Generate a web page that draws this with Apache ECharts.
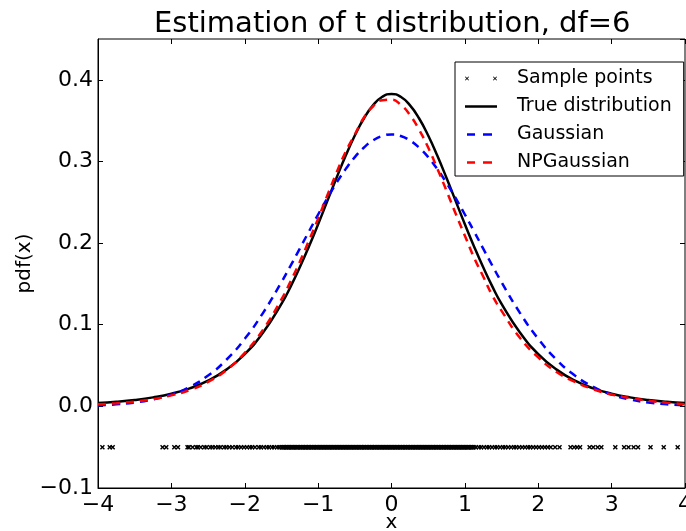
<!DOCTYPE html>
<html>
<head>
<meta charset="utf-8">
<script src="https://cdn.jsdelivr.net/npm/echarts@6/dist/echarts.min.js"></script>
<style>html,body{margin:0;padding:0;background:#fff}#c{width:686px;height:531px}</style>
</head>
<body>
<div id="c"></div>
<script>
// ---- data ----
const xGrid = [-4, -3.75, -3.5, -3.25, -3, -2.75, -2.5, -2.25, -2, -1.75, -1.5, -1.375, -1.25, -1.125, -1, -0.875, -0.75, -0.625, -0.5, -0.375, -0.25, -0.125, 0,
  0.125, 0.25, 0.375, 0.5, 0.625, 0.75, 0.875, 1, 1.125, 1.25, 1.375, 1.5, 1.75, 2, 2.25, 2.5, 2.75, 3, 3.25, 3.5, 3.75, 4];
const trueDist = [0.0041, 0.0056, 0.0078, 0.0110, 0.0155, 0.0220, 0.0315, 0.0450, 0.0640, 0.0904, 0.1255, 0.1467, 0.1703, 0.1959, 0.2231, 0.2514, 0.2797, 0.3069, 0.3318, 0.3529, 0.3690, 0.3792, 0.3827,
  0.3792, 0.3690, 0.3529, 0.3318, 0.3069, 0.2797, 0.2514, 0.2231, 0.1959, 0.1703, 0.1467, 0.1255, 0.0904, 0.0640, 0.0450, 0.0315, 0.0220, 0.0155, 0.0110, 0.0078, 0.0056, 0.0041];
const gaussian = [0.0013, 0.0025, 0.0047, 0.0084, 0.0145, 0.0239, 0.0377, 0.0571, 0.0827, 0.1146, 0.1521, 0.1723, 0.1932, 0.2143, 0.2350, 0.2550, 0.2737, 0.2906, 0.3053, 0.3171, 0.3258, 0.3312, 0.3330,
  0.3312, 0.3258, 0.3171, 0.3053, 0.2906, 0.2737, 0.2550, 0.2350, 0.2143, 0.1932, 0.1723, 0.1521, 0.1146, 0.0827, 0.0571, 0.0377, 0.0239, 0.0145, 0.0084, 0.0047, 0.0025, 0.0013];
const npGaussian = [0.0025, 0.0038, 0.0058, 0.0088, 0.0135, 0.0200, 0.0300, 0.0445, 0.0655, 0.0940, 0.1310, 0.1532, 0.1770, 0.2031, 0.2300, 0.2583, 0.2860, 0.3118, 0.3330, 0.3539, 0.3676, 0.3750, 0.3756,
  0.3695, 0.3571, 0.3391, 0.3170, 0.2912, 0.2640, 0.2359, 0.2090, 0.1822, 0.1590, 0.1356, 0.1170, 0.0840, 0.0600, 0.0420, 0.0300, 0.0210, 0.0145, 0.0102, 0.0070, 0.0045, 0.0025];
const sampleY = -0.05;
const samplePoints = [
  -3.94, -3.84, -3.80, -3.12, -3.07, -2.96, -2.91,
  -2.78, -2.76, -2.71, -2.66, -2.64, -2.60, -2.55, -2.52, -2.47, -2.44, -2.40, -2.36, -2.33, -2.28, -2.25, -2.21,
  -2.17, -2.12, -2.09, -2.05, -2.01, -1.97, -1.93, -1.90, -1.86, -1.81, -1.78, -1.74, -1.70, -1.67, -1.63, -1.60, -1.56, -1.53,
  -1.50, -1.48, -1.46, -1.43, -1.41, -1.39, -1.36, -1.34, -1.31, -1.29, -1.27, -1.24, -1.22, -1.20, -1.17, -1.15, -1.13,
  -1.10, -1.08, -1.06, -1.03, -1.01, -0.99, -0.96, -0.94, -0.92, -0.89, -0.87, -0.85, -0.82, -0.80, -0.78, -0.75, -0.73,
  -0.71, -0.69, -0.66, -0.64, -0.62, -0.59, -0.57, -0.55, -0.52, -0.50, -0.48, -0.45, -0.43, -0.41, -0.38, -0.36, -0.34,
  -0.31, -0.29, -0.27, -0.24, -0.22, -0.20, -0.17, -0.15, -0.13, -0.10, -0.08, -0.06, -0.03, -0.01, 0.01, 0.04, 0.06,
  0.08, 0.11, 0.13, 0.15, 0.18, 0.20, 0.22, 0.25, 0.27, 0.29, 0.32, 0.34, 0.36, 0.39, 0.41, 0.43, 0.46, 0.48, 0.50,
  0.53, 0.55, 0.57, 0.60, 0.62, 0.64, 0.67, 0.69, 0.71, 0.74, 0.76, 0.78, 0.81, 0.83, 0.85, 0.88, 0.90, 0.92, 0.95,
  0.97, 0.99, 1.02, 1.04, 1.06, 1.09, 1.11,
  -1.49, -1.47, -1.44, -1.42, -1.40, -1.37, -1.35, -1.33, -1.30, -1.28, -1.25, -1.23, -1.21, -1.18, -1.16, -1.14,
  -1.12, -1.09, -1.07, -1.05, -1.02, -1.00, -0.97, -0.95, -0.93, -0.91, -0.88, -0.86, -0.84, -0.81, -0.79, -0.77,
  -0.74, -0.72, -0.70, -0.67, -0.65, -0.63, -0.61, -0.58, -0.56, -0.54, -0.51, -0.49, -0.47, -0.44, -0.42, -0.40,
  -0.37, -0.35, -0.33, -0.30, -0.28, -0.26, -0.23, -0.21, -0.19, -0.16, -0.14, -0.12, -0.09, -0.07, -0.05, -0.02,
  0.00, 0.02, 0.05, 0.07, 0.09, 0.12, 0.14, 0.16, 0.19, 0.21, 0.23, 0.26, 0.28, 0.30, 0.33, 0.35, 0.37, 0.40,
  0.42, 0.44, 0.47, 0.49, 0.51, 0.54, 0.56, 0.58, 0.61, 0.63, 0.65, 0.68, 0.70, 0.72, 0.75, 0.77, 0.79, 0.82,
  0.84, 0.86, 0.89, 0.91, 0.93, 0.96, 0.98, 1.00, 1.03, 1.05, 1.08, 1.10, 1.12,
  1.15, 1.19, 1.22, 1.26, 1.30, 1.33, 1.37, 1.41, 1.44, 1.48, 1.52, 1.55, 1.59, 1.63, 1.67, 1.70, 1.74, 1.78, 1.82,
  1.86, 1.89, 1.93, 1.97, 2.01, 2.05, 2.09, 2.13, 2.17,
  2.23, 2.29, 2.44, 2.49, 2.53, 2.57, 2.70, 2.75, 2.81, 2.86, 3.05, 3.17, 3.23, 3.30, 3.36, 3.53, 3.71, 3.90
];
const seriesNames = ['Sample points', 'True distribution', 'Gaussian', 'NPGaussian'];
const titleText = 'Estimation of t distribution, df=6';

// ---- styling helpers ----
function cross(cx, cy, h, d) {
  const p = [[cx-h, cy-h+d], [cx-h+d, cy-h], [cx, cy-d], [cx+h-d, cy-h], [cx+h, cy-h+d], [cx+d, cy],
             [cx+h, cy+h-d], [cx+h-d, cy+h], [cx, cy+d], [cx-h+d, cy+h], [cx-h, cy+h-d], [cx-d, cy]];
  return 'M' + p.map(q => q[0] + ',' + q[1]).join('L') + 'Z';
}
const IW = 47, IH = 8;
const corners = 'M0,0h0.01v0.01h-0.01Z M' + IW + ',' + IH + 'h-0.01v-0.01h0.01Z';
const markerPath = 'path://' + cross(5, 5, 5, 2);
const iconSample = 'path://' + cross(2, 4, 2, 0.6) + ' ' + cross(30, 4, 2, 0.6) + ' ' + corners;
const iconSolid = 'path://M0,2.75h32v2.5h-32Z ' + corners;
const iconDash = 'path://M2,2.75h8v2.5h-8Z M18,2.75h9v2.5h-9Z ' + corners;
const FONT = 'DejaVu Sans';
const minusFmt = v => (v < 0 ? '\u2212' : '') + Math.abs(v);

const chart = echarts.init(document.getElementById('c'), null, {renderer: 'canvas'});
const lineData = arr => xGrid.map((x, i) => [x, arr[i]]);
const tick = {show: true, inside: true, length: 5, lineStyle: {color: '#000', width: 1}};

chart.setOption({
  animation: false,
  backgroundColor: '#fff',
  textStyle: {fontFamily: FONT, color: '#000'},
  title: {
    text: titleText, left: 149, top: 5,
    textStyle: {fontFamily: FONT, fontSize: 29, fontWeight: 'normal', color: '#000'}
  },
  grid: {left: 98, right: 1, top: 39, bottom: 43, show: true, borderColor: '#000', borderWidth: 1,
    containLabel: false, outerBoundsMode: 'none'},
  legend: {
    orient: 'vertical', left: 455, top: 62,
    padding: [7, 12, 4, 10], itemGap: 9,
    itemWidth: IW, itemHeight: IH,
    backgroundColor: '#fff', borderColor: '#000', borderWidth: 1,
    textStyle: {fontFamily: FONT, fontSize: 19, color: '#000'},
    selectedMode: false,
    data: [
      {name: seriesNames[0], icon: iconSample, itemStyle: {color: '#000', borderWidth: 0}},
      {name: seriesNames[1], icon: iconSolid, itemStyle: {color: '#000', borderWidth: 0}},
      {name: seriesNames[2], icon: iconDash, itemStyle: {color: '#0000ff', borderWidth: 0}},
      {name: seriesNames[3], icon: iconDash, itemStyle: {color: '#ff0000', borderWidth: 0}}
    ]
  },
  xAxis: [{
    type: 'value', min: -4, max: 4, interval: 1,
    name: 'x', nameLocation: 'middle', nameGap: 25, nameMoveOverlap: false,
    nameTextStyle: {fontFamily: FONT, fontSize: 20, color: '#000'},
    axisLine: {show: true, onZero: false, lineStyle: {color: '#000', width: 1}},
    axisTick: tick,
    axisLabel: {fontFamily: FONT, fontSize: 22, color: '#000', margin: 6, formatter: minusFmt},
    splitLine: {show: false}
  }, {
    type: 'value', min: -4, max: 4, interval: 1, position: 'top',
    axisLine: {show: false, onZero: false}, axisLabel: {show: false}, splitLine: {show: false},
    axisTick: tick
  }],
  yAxis: [{
    type: 'value', min: -0.1, max: 0.45, interval: 0.1,
    name: 'pdf(x)', nameLocation: 'middle', nameGap: 63, nameMoveOverlap: false,
    nameTextStyle: {fontFamily: FONT, fontSize: 20, color: '#000'},
    axisLine: {show: true, onZero: false, lineStyle: {color: '#000', width: 1}},
    axisTick: tick,
    axisLabel: {fontFamily: FONT, fontSize: 22, color: '#000', margin: 5, showMaxLabel: false,
      formatter: v => (v < 0 ? '\u2212' : '') + Math.abs(v).toFixed(1)},
    splitLine: {show: false}
  }, {
    type: 'value', min: -0.1, max: 0.45, interval: 0.1, position: 'right',
    axisLine: {show: false, onZero: false}, axisLabel: {show: false}, splitLine: {show: false},
    axisTick: tick
  }],
  series: [
    {
      name: seriesNames[0], type: 'scatter', symbol: markerPath, symbolSize: 5,
      itemStyle: {color: '#000', opacity: 1},
      data: samplePoints.map(x => [x, sampleY]), z: 2
    },
    {
      name: seriesNames[1], type: 'line', smooth: true, symbol: 'none',
      lineStyle: {color: '#000', width: 2.5}, itemStyle: {color: '#000'},
      data: lineData(trueDist), z: 3
    },
    {
      name: seriesNames[2], type: 'line', smooth: true, symbol: 'none',
      lineStyle: {color: '#0000ff', width: 2.5, type: [8, 6]}, itemStyle: {color: '#0000ff'},
      data: lineData(gaussian), z: 4
    },
    {
      name: seriesNames[3], type: 'line', smooth: true, symbol: 'none',
      lineStyle: {color: '#ff0000', width: 2.5, type: [8, 6]}, itemStyle: {color: '#ff0000'},
      data: lineData(npGaussian), z: 5
    }
  ]
});
</script>
</body>
</html>
